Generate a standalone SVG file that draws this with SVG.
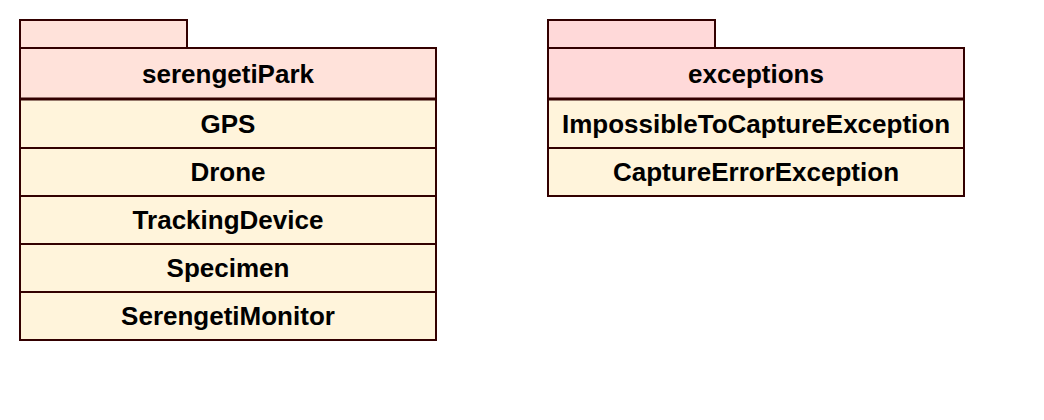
<svg xmlns="http://www.w3.org/2000/svg" width="1044" height="420" viewBox="0 0 1044 420">
<style>
.ln{stroke:#330000;stroke-width:2}
.row{fill:#fff4db}
.t{font-family:"Liberation Sans",Arial,sans-serif;font-weight:bold;font-size:26px;fill:#000;text-anchor:middle}
</style>
<rect width="1044" height="420" fill="#fff"/>
<g id="serengetiPark">
<rect class="ln" x="20" y="20" width="167" height="28" fill="#ffe2da"/>
<rect class="ln" x="20" y="48" width="416" height="51" fill="#ffe2da"/>
<rect class="ln row" x="20" y="99" width="416" height="49"/>
<rect class="ln row" x="20" y="148" width="416" height="48"/>
<rect class="ln row" x="20" y="196" width="416" height="48"/>
<rect class="ln row" x="20" y="244" width="416" height="48"/>
<rect class="ln row" x="20" y="292" width="416" height="48"/>
<line x1="20" y1="99" x2="436" y2="99" stroke="#330000" stroke-width="3"/>
<text class="t" x="228" y="83">serengetiPark</text>
<text class="t" x="228" y="133">GPS</text>
<text class="t" x="228" y="181">Drone</text>
<text class="t" x="228" y="229">TrackingDevice</text>
<text class="t" x="228" y="277">Specimen</text>
<text class="t" x="228" y="325">SerengetiMonitor</text>
</g>
<g id="exceptions">
<rect class="ln" x="548" y="20" width="167" height="28" fill="#ffd9d9"/>
<rect class="ln" x="548" y="48" width="416" height="51" fill="#ffd9d9"/>
<rect class="ln row" x="548" y="99" width="416" height="49"/>
<rect class="ln row" x="548" y="148" width="416" height="48"/>
<line x1="548" y1="99" x2="964" y2="99" stroke="#330000" stroke-width="3"/>
<text class="t" x="756" y="83">exceptions</text>
<text class="t" x="756" y="133">ImpossibleToCaptureException</text>
<text class="t" x="756" y="181">CaptureErrorException</text>
</g>
<g id="connectors"></g>
</svg>
